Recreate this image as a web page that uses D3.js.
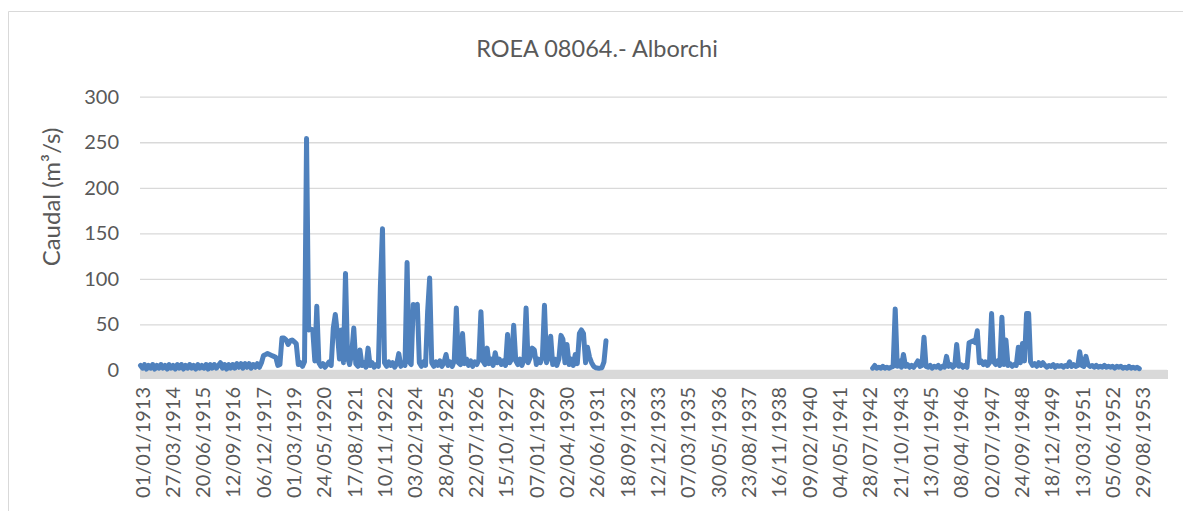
<!DOCTYPE html>
<html lang="es">
<head>
<meta charset="UTF-8">
<title>ROEA 08064.- Alborchi</title>
<script src="https://d3js.org/d3.v7.min.js"></script>
<style>
  body { margin: 0; background: #fff; }
  svg { display: block; font-family: Lato, "Open Sans", sans-serif; }
</style>
</head>
<body>
<div id="chart"></div>
<script>
// Caudal mensual (m3/s)
var inicioTramo1 = "1913-01-01";
var tramo1 = [
  5, 2, 6, 1, 5, 2, 6, 1, 5, 2, 6, 2,        // 1913
  5, 1, 6, 2, 5, 1, 6, 2, 6, 1, 5, 2,        // 1914
  6, 2, 5, 1, 6, 2, 5, 2, 6, 1, 6, 2,        // 1915
  6, 2, 5, 8, 2, 6, 1, 6, 2, 6, 2, 7,        // 1916
  3, 7, 2, 7, 3, 7, 2, 6, 3, 7, 3, 8,        // 1917
  16, 17, 18, 17, 16, 15, 14, 5, 6, 35, 35, 33, // 1918
  28, 32, 33, 31, 29, 6, 8, 4, 9, 254, 44, 45,  // 1919
  44, 10, 70, 8, 4, 7, 3, 6, 9, 5, 46, 61,   // 1920
  40, 12, 44, 8, 106, 14, 6, 18, 46, 7, 4, 22, // 1921
  5, 8, 3, 24, 5, 8, 3, 6, 4, 92, 155, 8,    // 1922
  4, 9, 5, 8, 3, 7, 18, 4, 8, 5, 118, 9,     // 1923
  6, 72, 70, 72, 8, 4, 9, 5, 64, 101, 8, 4,  // 1924
  9, 5, 10, 4, 8, 17, 5, 9, 4, 10, 68, 8,    // 1925
  6, 40, 7, 12, 5, 10, 4, 9, 6, 11, 64, 10,  // 1926
  6, 24, 7, 12, 5, 19, 8, 12, 6, 10, 5, 39,  // 1927
  8, 12, 49, 10, 6, 12, 5, 11, 68, 8, 14, 24, // 1928
  22, 6, 12, 8, 14, 71, 8, 14, 37, 6, 12, 5, // 1929
  12, 38, 34, 8, 28, 6, 12, 5, 17, 7, 40, 44, // 1930
  40, 8, 25, 14, 8, 4, 2.5, 2, 2, 2.5, 9, 32 // 1931
];
var inicioTramo2 = "1942-10-01";
var tramo2 = [
  2, 5, 2, 3, 2, 4, 2, 3, 2, 3, 4, 67,       // 1942-43
  4, 10, 3, 17, 4, 6, 3, 5, 3, 6, 10, 4,     // 1943-44
  5, 36, 4, 3, 5, 2, 4, 3, 5, 2, 4, 3,       // 1944-45
  15, 4, 6, 3, 5, 28, 4, 6, 3, 5, 3, 30,     // 1945-46
  31, 32, 30, 43, 8, 10, 6, 9, 5, 8, 62, 9,  // 1946-47
  6, 10, 5, 58, 6, 33, 5, 7, 4, 6, 5, 25,    // 1947-48
  8, 29, 10, 62, 62, 9, 5, 7, 4, 8, 5, 8,    // 1948-49
  5, 3, 5, 4, 6, 3, 5, 4, 5, 3, 5, 4,        // 1949-50
  9, 4, 6, 4, 5, 20, 5, 4, 15, 6, 4, 5,      // 1950-51
  3, 5, 3, 4, 3, 5, 3, 4, 3, 4, 2, 4,        // 1951-52
  3, 4, 2, 3, 2, 4, 2, 3, 2, 3, 1.5          // 1952-53
];
var etiquetasX = [
  "01/01/1913", "27/03/1914", "20/06/1915", "12/09/1916", "06/12/1917",
  "01/03/1919", "24/05/1920", "17/08/1921", "10/11/1922", "03/02/1924",
  "28/04/1925", "22/07/1926", "15/10/1927", "07/01/1929", "02/04/1930",
  "26/06/1931", "18/09/1932", "12/12/1933", "07/03/1935", "30/05/1936",
  "23/08/1937", "16/11/1938", "09/02/1940", "04/05/1941", "28/07/1942",
  "21/10/1943", "13/01/1945", "08/04/1946", "02/07/1947", "24/09/1948",
  "18/12/1949", "13/03/1951", "05/06/1952", "29/08/1953"
];
var ticksY = [0, 50, 100, 150, 200, 250, 300];
var ejeDesde = "1913-01-01", ejeHasta = "1954-10-01";

var W = 1183, H = 511;
var plotLeft = 140, plotRight = 1168, plotTop = 96.7, plotBottom = 370;
var gris = "#d9d9d9", texto = "#595959", azul = "#4f81bd";

var iso = d3.utcParse("%Y-%m-%d");
var dmy = d3.utcParse("%d/%m/%Y");
var fmt = d3.utcFormat("%d/%m/%Y");

function serie(inicio, valores) {
  var d0 = iso(inicio);
  return valores.map(function(v, i) { return {fecha: d3.utcMonth.offset(d0, i), q: v}; });
}
var datos = serie(inicioTramo1, tramo1)
  .concat([{fecha: iso("1932-01-01"), q: null}])
  .concat(serie(inicioTramo2, tramo2));

var svg = d3.select("#chart").append("svg")
  .attr("width", W).attr("height", H);

// marco del gráfico
svg.append("path")
  .attr("d", "M8.5," + H + "V11.5H" + W)
  .attr("fill", "none").attr("stroke", gris).attr("stroke-width", 1);

var x = d3.scaleUtc().domain([iso(ejeDesde), iso(ejeHasta)]).range([plotLeft + 0.5, plotRight]);
var y = d3.scaleLinear().domain([0, 300]).range([plotBottom, plotTop]);

// rejilla y eje Y
var gy = svg.append("g")
  .attr("transform", "translate(" + plotLeft + ",0)")
  .call(d3.axisLeft(y).tickValues(ticksY).tickSize(-(plotRight - 1 - plotLeft)).tickPadding(21));
gy.select(".domain").remove();
gy.selectAll(".tick line").attr("stroke", gris).attr("stroke-width", 1.3);
gy.selectAll(".tick text").attr("fill", texto).style("font-size", "20px").style("font-family", "Lato, 'Open Sans', sans-serif");

// eje X (línea gruesa gris)
svg.append("rect")
  .attr("x", plotLeft).attr("y", y(0))
  .attr("width", plotRight - plotLeft).attr("height", 9)
  .attr("fill", gris);

var gx = svg.append("g")
  .attr("transform", "translate(0," + y(0) + ")")
  .call(d3.axisBottom(x).tickValues(etiquetasX.map(dmy)).tickFormat(fmt).tickSize(0));
gx.select(".domain").remove();
gx.selectAll(".tick text")
  .attr("transform", "rotate(-90)")
  .attr("x", -17).attr("y", 1.5).attr("dy", "0.35em")
  .style("text-anchor", "end")
  .attr("fill", texto).style("font-size", "20px").style("font-family", "Lato, 'Open Sans', sans-serif");

// serie
var linea = d3.line()
  .defined(function(d) { return d.q !== null; })
  .x(function(d) { return x(d.fecha); })
  .y(function(d) { return y(d.q); });

svg.append("path")
  .datum(datos)
  .attr("d", linea)
  .attr("fill", "none")
  .attr("stroke", azul)
  .attr("stroke-width", 5)
  .attr("stroke-linejoin", "round")
  .attr("stroke-linecap", "round");

// títulos
svg.append("text")
  .attr("x", 597).attr("y", 57)
  .attr("text-anchor", "middle")
  .attr("fill", texto).style("font-size", "23.5px")
  .text("ROEA 08064.- Alborchi");

svg.append("text")
  .attr("transform", "translate(52,197) rotate(-90)")
  .attr("text-anchor", "middle")
  .attr("dy", "0.35em")
  .attr("fill", texto).style("font-size", "24px")
  .text("Caudal (m³/s)");
</script>
</body>
</html>
